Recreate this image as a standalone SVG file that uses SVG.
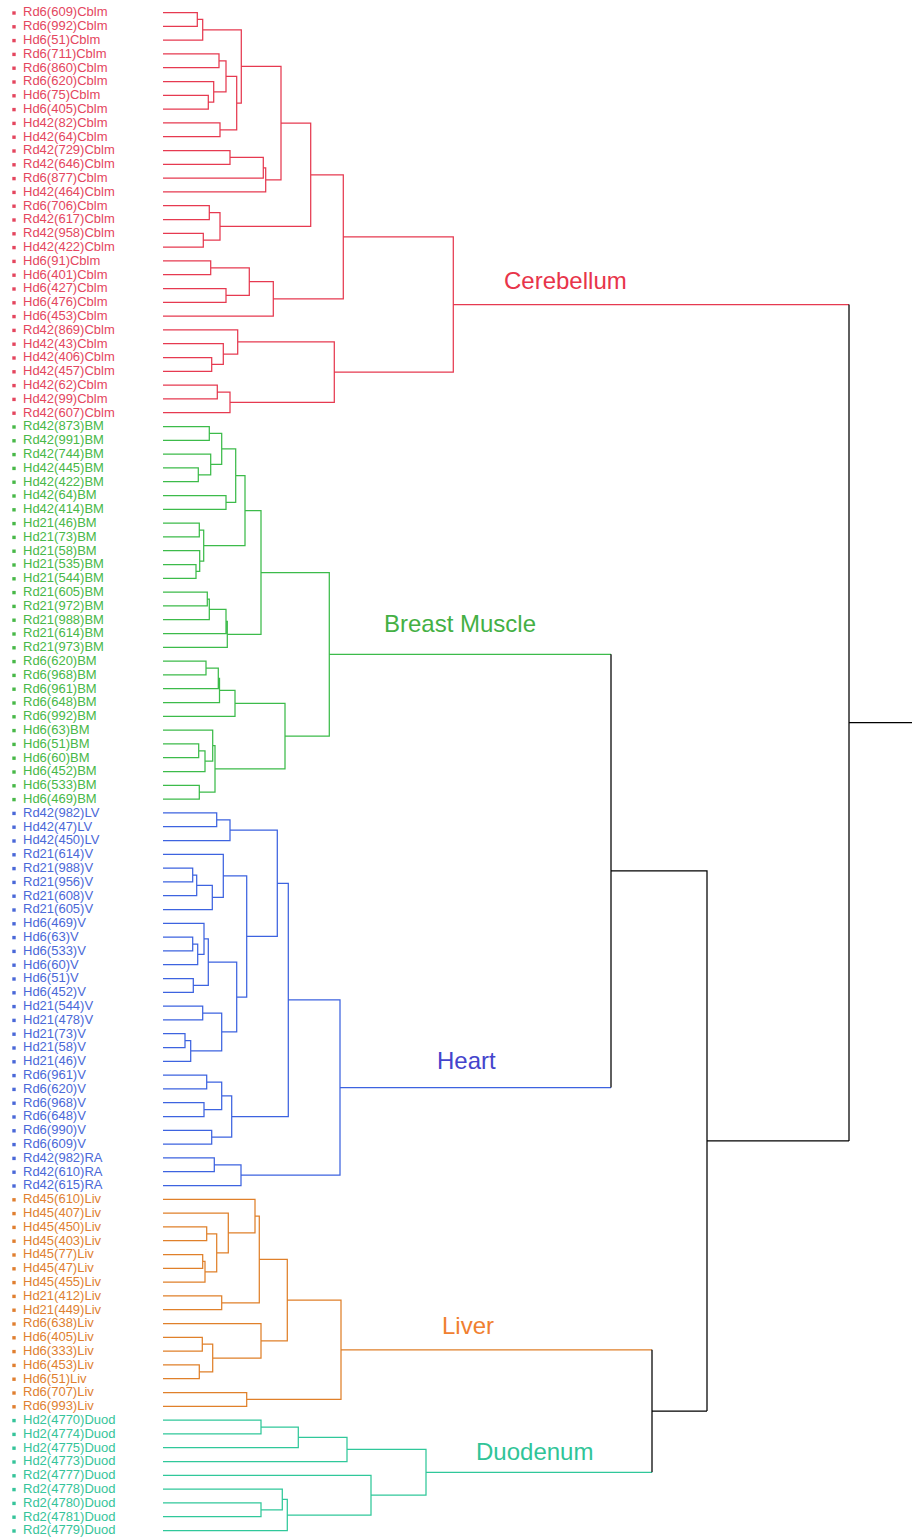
<svg xmlns="http://www.w3.org/2000/svg" width="912" height="1538" viewBox="0 0 912 1538">
<style>
text{font-family:"Liberation Sans",Arial,sans-serif}
.lf text{font-size:13px}
.cr{fill:#e4465e}.cg{fill:#48b848}.cb{fill:#4a68d8}.co{fill:#e07f30}.ct{fill:#36c49a}
#connectors path{fill:none;stroke-width:1.25}
.r{stroke:#e63a50}.g{stroke:#3cbb4a}.b{stroke:#3d63e0}.o{stroke:#e0802a}.t{stroke:#30c89a}.k{stroke:#000}
.big{font-size:24px}
</style>
<rect width="912" height="1538" fill="#fff"/>
<g id="connectors">
<path class="r" d="M163 12.5H197.3V26.3H163M197.3 19.4H202.7V40.1H163M163 53.9H219V67.7H163M163 95.3H208.3V109.1H163M163 81.5H213.7V102.2H208.3M219 60.8H226V91.85H213.7M163 122.9H220V136.7H163M226 76.3H236.7V129.8H220M202.7 29.75H241.3V103.05H236.7M163 150.5H230V164.3H163M230 157.4H263.3V178.1H163M263.3 167.75H265.7V191.9H163M241.3 66.4H281V179.8H265.7M163 205.7H209.3V219.5H163M163 233.3H203.3V247.1H163M209.3 212.6H220V240.2H203.3M281 123.1H310.7V226.4H220M163 260.9H210.7V274.7H163M163 288.5H226V302.3H163M210.7 267.8H249.3V295.4H226M249.3 281.6H273.3V316.1H163M310.7 174.75H343.3V298.85H273.3M163 357.5H211.7V371.3H163M163 343.7H223.3V364.4H211.7M163 329.9H237.7V354.05H223.3M163 385.1H217.3V398.9H163M217.3 392H230V412.7H163M237.7 341.98H334.3V402.35H230M343.3 236.8H453.3V372.2H334.3M453.3 304.5H849"/>
<path class="g" d="M163 426.5H209.3V440.3H163M163 467.9H198.3V481.7H163M163 454.1H210.7V474.8H198.3M209.3 433.4H221.7V464.45H210.7M163 495.5H226V509.3H163M221.7 448.9H235.7V502.4H226M163 523.1H199.3V536.9H163M163 564.5H196V578.3H163M163 550.7H199.7V571.4H196M199.3 530H203.7V561.05H199.7M235.7 475.65H245V545.5H203.7M163 592.1H207.3V605.9H163M207.3 599H209.3V619.7H163M209.3 609.35H226V633.5H163M226 621.4H227.3V647.3H163M245 510.6H261V634.35H227.3M163 661.1H206V674.9H163M206 668H218.3V688.7H163M218.3 678.35H219.5V702.5H163M219.5 690.4H235V716.3H163M163 743.9H198.7V757.7H163M198.7 750.8H205V771.5H163M163 730.1H212.7V761.15H205M163 785.3H199.3V799.1H163M212.7 745.6H215V792.2H199.3M235 703.35H285V768.9H215M261 572.5H329.3V736.1H285M329.3 654.3H611"/>
<path class="b" d="M163 812.9H216.7V826.7H163M216.7 819.8H230V840.5H163M163 868.1H192.7V881.9H163M192.7 875H196.7V895.7H163M196.7 885.35H212.3V909.5H163M163 854.3H223.3V897.4H212.3M163 937.1H192.7V950.9H163M192.7 944H197.7V964.7H163M163 923.3H204V954.35H197.7M163 978.5H193.3V992.3H163M204 938.8H208.3V985.4H193.3M163 1006.1H202.7V1019.9H163M163 1033.7H185V1047.5H163M185 1040.6H190.7V1061.3H163M202.7 1013H221.7V1050.95H190.7M208.3 962.1H236.7V1031.98H221.7M223.3 875.85H246.7V997H236.7M230 830.15H277.3V936.4H246.7M163 1075.1H206.7V1088.9H163M163 1102.7H204V1116.5H163M206.7 1082H221.7V1109.6H204M163 1130.3H211.7V1144.1H163M221.7 1095.8H231.7V1137.2H211.7M277.3 883.3H288.3V1116.5H231.7M163 1157.9H214.3V1171.7H163M214.3 1164.8H241V1185.5H163M288.3 999.9H340V1175.15H241M340 1087.5H611"/>
<path class="o" d="M163 1226.9H206.7V1240.7H163M163 1254.5H202.7V1268.3H163M202.7 1261.4H205V1282.1H163M206.7 1233.8H216.7V1271.75H205M163 1213.1H228.3V1252.8H216.7M163 1199.3H255V1232.95H228.3M163 1295.9H221.7V1309.7H163M255 1216.1H259.3V1302.8H221.7M163 1337.3H202.3V1351.1H163M163 1364.9H199.3V1378.7H163M202.3 1344.2H212.7V1371.8H199.3M163 1323.5H261V1358H212.7M259.3 1259.45H287.3V1340.75H261M163 1392.5H246.7V1406.3H163M287.3 1300.1H341V1399.4H246.7M341 1349.75H652"/>
<path class="t" d="M163 1420.1H261V1433.9H163M261 1427H298.3V1447.7H163M298.3 1437.35H347V1461.5H163M163 1502.9H261V1516.7H163M163 1489.1H282.3V1509.8H261M282.3 1499.45H287.3V1530.5H163M163 1475.3H371V1515H287.3M347 1449.4H426V1495.15H371M426 1472.3H652"/>
<path class="k" d="M652 1349.75V1472.3M652 1411H707M611 654.3V1087.5M611 870.9H707V1411M707 1140.95H849M849 304.5V1140.95M849 722.7H912"/>
</g>
<g id="cluster-labels">
<text id="lbl-cerebellum" class="big" x="504" y="289" fill="#e8344a">Cerebellum</text>
<text id="lbl-breast-muscle" class="big" x="384" y="632" fill="#44b044">Breast Muscle</text>
<text id="lbl-heart" class="big" x="437" y="1069" fill="#4444cc">Heart</text>
<text id="lbl-liver" class="big" x="442" y="1334" fill="#f08030">Liver</text>
<text id="lbl-duodenum" class="big" x="476" y="1460" fill="#30c498">Duodenum</text>
</g>
<g id="leaves" class="lf">
<g id="n1" class="cr"><rect x="12.3" y="11.3" width="3.4" height="3.4"/><text x="23" y="16.3">Rd6(609)Cblm</text></g>
<g id="n2" class="cr"><rect x="12.3" y="25.1" width="3.4" height="3.4"/><text x="23" y="30.1">Rd6(992)Cblm</text></g>
<g id="n3" class="cr"><rect x="12.3" y="38.9" width="3.4" height="3.4"/><text x="23" y="43.9">Hd6(51)Cblm</text></g>
<g id="n4" class="cr"><rect x="12.3" y="52.7" width="3.4" height="3.4"/><text x="23" y="57.7">Rd6(711)Cblm</text></g>
<g id="n5" class="cr"><rect x="12.3" y="66.5" width="3.4" height="3.4"/><text x="23" y="71.5">Rd6(860)Cblm</text></g>
<g id="n6" class="cr"><rect x="12.3" y="80.3" width="3.4" height="3.4"/><text x="23" y="85.3">Rd6(620)Cblm</text></g>
<g id="n7" class="cr"><rect x="12.3" y="94.1" width="3.4" height="3.4"/><text x="23" y="99.1">Hd6(75)Cblm</text></g>
<g id="n8" class="cr"><rect x="12.3" y="107.9" width="3.4" height="3.4"/><text x="23" y="112.9">Hd6(405)Cblm</text></g>
<g id="n9" class="cr"><rect x="12.3" y="121.7" width="3.4" height="3.4"/><text x="23" y="126.7">Hd42(82)Cblm</text></g>
<g id="n10" class="cr"><rect x="12.3" y="135.5" width="3.4" height="3.4"/><text x="23" y="140.5">Hd42(64)Cblm</text></g>
<g id="n11" class="cr"><rect x="12.3" y="149.3" width="3.4" height="3.4"/><text x="23" y="154.3">Rd42(729)Cblm</text></g>
<g id="n12" class="cr"><rect x="12.3" y="163.1" width="3.4" height="3.4"/><text x="23" y="168.1">Rd42(646)Cblm</text></g>
<g id="n13" class="cr"><rect x="12.3" y="176.9" width="3.4" height="3.4"/><text x="23" y="181.9">Rd6(877)Cblm</text></g>
<g id="n14" class="cr"><rect x="12.3" y="190.7" width="3.4" height="3.4"/><text x="23" y="195.7">Hd42(464)Cblm</text></g>
<g id="n15" class="cr"><rect x="12.3" y="204.5" width="3.4" height="3.4"/><text x="23" y="209.5">Rd6(706)Cblm</text></g>
<g id="n16" class="cr"><rect x="12.3" y="218.3" width="3.4" height="3.4"/><text x="23" y="223.3">Rd42(617)Cblm</text></g>
<g id="n17" class="cr"><rect x="12.3" y="232.1" width="3.4" height="3.4"/><text x="23" y="237.1">Rd42(958)Cblm</text></g>
<g id="n18" class="cr"><rect x="12.3" y="245.9" width="3.4" height="3.4"/><text x="23" y="250.9">Hd42(422)Cblm</text></g>
<g id="n19" class="cr"><rect x="12.3" y="259.7" width="3.4" height="3.4"/><text x="23" y="264.7">Hd6(91)Cblm</text></g>
<g id="n20" class="cr"><rect x="12.3" y="273.5" width="3.4" height="3.4"/><text x="23" y="278.5">Hd6(401)Cblm</text></g>
<g id="n21" class="cr"><rect x="12.3" y="287.3" width="3.4" height="3.4"/><text x="23" y="292.3">Hd6(427)Cblm</text></g>
<g id="n22" class="cr"><rect x="12.3" y="301.1" width="3.4" height="3.4"/><text x="23" y="306.1">Hd6(476)Cblm</text></g>
<g id="n23" class="cr"><rect x="12.3" y="314.9" width="3.4" height="3.4"/><text x="23" y="319.9">Hd6(453)Cblm</text></g>
<g id="n24" class="cr"><rect x="12.3" y="328.7" width="3.4" height="3.4"/><text x="23" y="333.7">Rd42(869)Cblm</text></g>
<g id="n25" class="cr"><rect x="12.3" y="342.5" width="3.4" height="3.4"/><text x="23" y="347.5">Hd42(43)Cblm</text></g>
<g id="n26" class="cr"><rect x="12.3" y="356.3" width="3.4" height="3.4"/><text x="23" y="361.3">Hd42(406)Cblm</text></g>
<g id="n27" class="cr"><rect x="12.3" y="370.1" width="3.4" height="3.4"/><text x="23" y="375.1">Hd42(457)Cblm</text></g>
<g id="n28" class="cr"><rect x="12.3" y="383.9" width="3.4" height="3.4"/><text x="23" y="388.9">Hd42(62)Cblm</text></g>
<g id="n29" class="cr"><rect x="12.3" y="397.7" width="3.4" height="3.4"/><text x="23" y="402.7">Hd42(99)Cblm</text></g>
<g id="n30" class="cr"><rect x="12.3" y="411.5" width="3.4" height="3.4"/><text x="23" y="416.5">Rd42(607)Cblm</text></g>
<g id="n31" class="cg"><rect x="12.3" y="425.3" width="3.4" height="3.4"/><text x="23" y="430.3">Rd42(873)BM</text></g>
<g id="n32" class="cg"><rect x="12.3" y="439.1" width="3.4" height="3.4"/><text x="23" y="444.1">Rd42(991)BM</text></g>
<g id="n33" class="cg"><rect x="12.3" y="452.9" width="3.4" height="3.4"/><text x="23" y="457.9">Rd42(744)BM</text></g>
<g id="n34" class="cg"><rect x="12.3" y="466.7" width="3.4" height="3.4"/><text x="23" y="471.7">Hd42(445)BM</text></g>
<g id="n35" class="cg"><rect x="12.3" y="480.5" width="3.4" height="3.4"/><text x="23" y="485.5">Hd42(422)BM</text></g>
<g id="n36" class="cg"><rect x="12.3" y="494.3" width="3.4" height="3.4"/><text x="23" y="499.3">Hd42(64)BM</text></g>
<g id="n37" class="cg"><rect x="12.3" y="508.1" width="3.4" height="3.4"/><text x="23" y="513.1">Hd42(414)BM</text></g>
<g id="n38" class="cg"><rect x="12.3" y="521.9" width="3.4" height="3.4"/><text x="23" y="526.9">Hd21(46)BM</text></g>
<g id="n39" class="cg"><rect x="12.3" y="535.7" width="3.4" height="3.4"/><text x="23" y="540.7">Hd21(73)BM</text></g>
<g id="n40" class="cg"><rect x="12.3" y="549.5" width="3.4" height="3.4"/><text x="23" y="554.5">Hd21(58)BM</text></g>
<g id="n41" class="cg"><rect x="12.3" y="563.3" width="3.4" height="3.4"/><text x="23" y="568.3">Hd21(535)BM</text></g>
<g id="n42" class="cg"><rect x="12.3" y="577.1" width="3.4" height="3.4"/><text x="23" y="582.1">Hd21(544)BM</text></g>
<g id="n43" class="cg"><rect x="12.3" y="590.9" width="3.4" height="3.4"/><text x="23" y="595.9">Rd21(605)BM</text></g>
<g id="n44" class="cg"><rect x="12.3" y="604.7" width="3.4" height="3.4"/><text x="23" y="609.7">Rd21(972)BM</text></g>
<g id="n45" class="cg"><rect x="12.3" y="618.5" width="3.4" height="3.4"/><text x="23" y="623.5">Rd21(988)BM</text></g>
<g id="n46" class="cg"><rect x="12.3" y="632.3" width="3.4" height="3.4"/><text x="23" y="637.3">Rd21(614)BM</text></g>
<g id="n47" class="cg"><rect x="12.3" y="646.1" width="3.4" height="3.4"/><text x="23" y="651.1">Rd21(973)BM</text></g>
<g id="n48" class="cg"><rect x="12.3" y="659.9" width="3.4" height="3.4"/><text x="23" y="664.9">Rd6(620)BM</text></g>
<g id="n49" class="cg"><rect x="12.3" y="673.7" width="3.4" height="3.4"/><text x="23" y="678.7">Rd6(968)BM</text></g>
<g id="n50" class="cg"><rect x="12.3" y="687.5" width="3.4" height="3.4"/><text x="23" y="692.5">Rd6(961)BM</text></g>
<g id="n51" class="cg"><rect x="12.3" y="701.3" width="3.4" height="3.4"/><text x="23" y="706.3">Rd6(648)BM</text></g>
<g id="n52" class="cg"><rect x="12.3" y="715.1" width="3.4" height="3.4"/><text x="23" y="720.1">Rd6(992)BM</text></g>
<g id="n53" class="cg"><rect x="12.3" y="728.9" width="3.4" height="3.4"/><text x="23" y="733.9">Hd6(63)BM</text></g>
<g id="n54" class="cg"><rect x="12.3" y="742.7" width="3.4" height="3.4"/><text x="23" y="747.7">Hd6(51)BM</text></g>
<g id="n55" class="cg"><rect x="12.3" y="756.5" width="3.4" height="3.4"/><text x="23" y="761.5">Hd6(60)BM</text></g>
<g id="n56" class="cg"><rect x="12.3" y="770.3" width="3.4" height="3.4"/><text x="23" y="775.3">Hd6(452)BM</text></g>
<g id="n57" class="cg"><rect x="12.3" y="784.1" width="3.4" height="3.4"/><text x="23" y="789.1">Hd6(533)BM</text></g>
<g id="n58" class="cg"><rect x="12.3" y="797.9" width="3.4" height="3.4"/><text x="23" y="802.9">Hd6(469)BM</text></g>
<g id="n59" class="cb"><rect x="12.3" y="811.7" width="3.4" height="3.4"/><text x="23" y="816.7">Rd42(982)LV</text></g>
<g id="n60" class="cb"><rect x="12.3" y="825.5" width="3.4" height="3.4"/><text x="23" y="830.5">Hd42(47)LV</text></g>
<g id="n61" class="cb"><rect x="12.3" y="839.3" width="3.4" height="3.4"/><text x="23" y="844.3">Hd42(450)LV</text></g>
<g id="n62" class="cb"><rect x="12.3" y="853.1" width="3.4" height="3.4"/><text x="23" y="858.1">Rd21(614)V</text></g>
<g id="n63" class="cb"><rect x="12.3" y="866.9" width="3.4" height="3.4"/><text x="23" y="871.9">Rd21(988)V</text></g>
<g id="n64" class="cb"><rect x="12.3" y="880.7" width="3.4" height="3.4"/><text x="23" y="885.7">Rd21(956)V</text></g>
<g id="n65" class="cb"><rect x="12.3" y="894.5" width="3.4" height="3.4"/><text x="23" y="899.5">Rd21(608)V</text></g>
<g id="n66" class="cb"><rect x="12.3" y="908.3" width="3.4" height="3.4"/><text x="23" y="913.3">Rd21(605)V</text></g>
<g id="n67" class="cb"><rect x="12.3" y="922.1" width="3.4" height="3.4"/><text x="23" y="927.1">Hd6(469)V</text></g>
<g id="n68" class="cb"><rect x="12.3" y="935.9" width="3.4" height="3.4"/><text x="23" y="940.9">Hd6(63)V</text></g>
<g id="n69" class="cb"><rect x="12.3" y="949.7" width="3.4" height="3.4"/><text x="23" y="954.7">Hd6(533)V</text></g>
<g id="n70" class="cb"><rect x="12.3" y="963.5" width="3.4" height="3.4"/><text x="23" y="968.5">Hd6(60)V</text></g>
<g id="n71" class="cb"><rect x="12.3" y="977.3" width="3.4" height="3.4"/><text x="23" y="982.3">Hd6(51)V</text></g>
<g id="n72" class="cb"><rect x="12.3" y="991.1" width="3.4" height="3.4"/><text x="23" y="996.1">Hd6(452)V</text></g>
<g id="n73" class="cb"><rect x="12.3" y="1004.9" width="3.4" height="3.4"/><text x="23" y="1009.9">Hd21(544)V</text></g>
<g id="n74" class="cb"><rect x="12.3" y="1018.7" width="3.4" height="3.4"/><text x="23" y="1023.7">Hd21(478)V</text></g>
<g id="n75" class="cb"><rect x="12.3" y="1032.5" width="3.4" height="3.4"/><text x="23" y="1037.5">Hd21(73)V</text></g>
<g id="n76" class="cb"><rect x="12.3" y="1046.3" width="3.4" height="3.4"/><text x="23" y="1051.3">Hd21(58)V</text></g>
<g id="n77" class="cb"><rect x="12.3" y="1060.1" width="3.4" height="3.4"/><text x="23" y="1065.1">Hd21(46)V</text></g>
<g id="n78" class="cb"><rect x="12.3" y="1073.9" width="3.4" height="3.4"/><text x="23" y="1078.9">Rd6(961)V</text></g>
<g id="n79" class="cb"><rect x="12.3" y="1087.7" width="3.4" height="3.4"/><text x="23" y="1092.7">Rd6(620)V</text></g>
<g id="n80" class="cb"><rect x="12.3" y="1101.5" width="3.4" height="3.4"/><text x="23" y="1106.5">Rd6(968)V</text></g>
<g id="n81" class="cb"><rect x="12.3" y="1115.3" width="3.4" height="3.4"/><text x="23" y="1120.3">Rd6(648)V</text></g>
<g id="n82" class="cb"><rect x="12.3" y="1129.1" width="3.4" height="3.4"/><text x="23" y="1134.1">Rd6(990)V</text></g>
<g id="n83" class="cb"><rect x="12.3" y="1142.9" width="3.4" height="3.4"/><text x="23" y="1147.9">Rd6(609)V</text></g>
<g id="n84" class="cb"><rect x="12.3" y="1156.7" width="3.4" height="3.4"/><text x="23" y="1161.7">Rd42(982)RA</text></g>
<g id="n85" class="cb"><rect x="12.3" y="1170.5" width="3.4" height="3.4"/><text x="23" y="1175.5">Rd42(610)RA</text></g>
<g id="n86" class="cb"><rect x="12.3" y="1184.3" width="3.4" height="3.4"/><text x="23" y="1189.3">Rd42(615)RA</text></g>
<g id="n87" class="co"><rect x="12.3" y="1198.1" width="3.4" height="3.4"/><text x="23" y="1203.1">Rd45(610)Liv</text></g>
<g id="n88" class="co"><rect x="12.3" y="1211.9" width="3.4" height="3.4"/><text x="23" y="1216.9">Hd45(407)Liv</text></g>
<g id="n89" class="co"><rect x="12.3" y="1225.7" width="3.4" height="3.4"/><text x="23" y="1230.7">Hd45(450)Liv</text></g>
<g id="n90" class="co"><rect x="12.3" y="1239.5" width="3.4" height="3.4"/><text x="23" y="1244.5">Hd45(403)Liv</text></g>
<g id="n91" class="co"><rect x="12.3" y="1253.3" width="3.4" height="3.4"/><text x="23" y="1258.3">Hd45(77)Liv</text></g>
<g id="n92" class="co"><rect x="12.3" y="1267.1" width="3.4" height="3.4"/><text x="23" y="1272.1">Hd45(47)Liv</text></g>
<g id="n93" class="co"><rect x="12.3" y="1280.9" width="3.4" height="3.4"/><text x="23" y="1285.9">Hd45(455)Liv</text></g>
<g id="n94" class="co"><rect x="12.3" y="1294.7" width="3.4" height="3.4"/><text x="23" y="1299.7">Hd21(412)Liv</text></g>
<g id="n95" class="co"><rect x="12.3" y="1308.5" width="3.4" height="3.4"/><text x="23" y="1313.5">Hd21(449)Liv</text></g>
<g id="n96" class="co"><rect x="12.3" y="1322.3" width="3.4" height="3.4"/><text x="23" y="1327.3">Rd6(638)Liv</text></g>
<g id="n97" class="co"><rect x="12.3" y="1336.1" width="3.4" height="3.4"/><text x="23" y="1341.1">Hd6(405)Liv</text></g>
<g id="n98" class="co"><rect x="12.3" y="1349.9" width="3.4" height="3.4"/><text x="23" y="1354.9">Hd6(333)Liv</text></g>
<g id="n99" class="co"><rect x="12.3" y="1363.7" width="3.4" height="3.4"/><text x="23" y="1368.7">Hd6(453)Liv</text></g>
<g id="n100" class="co"><rect x="12.3" y="1377.5" width="3.4" height="3.4"/><text x="23" y="1382.5">Hd6(51)Liv</text></g>
<g id="n101" class="co"><rect x="12.3" y="1391.3" width="3.4" height="3.4"/><text x="23" y="1396.3">Rd6(707)Liv</text></g>
<g id="n102" class="co"><rect x="12.3" y="1405.1" width="3.4" height="3.4"/><text x="23" y="1410.1">Rd6(993)Liv</text></g>
<g id="n103" class="ct"><rect x="12.3" y="1418.9" width="3.4" height="3.4"/><text x="23" y="1423.9">Hd2(4770)Duod</text></g>
<g id="n104" class="ct"><rect x="12.3" y="1432.7" width="3.4" height="3.4"/><text x="23" y="1437.7">Hd2(4774)Duod</text></g>
<g id="n105" class="ct"><rect x="12.3" y="1446.5" width="3.4" height="3.4"/><text x="23" y="1451.5">Hd2(4775)Duod</text></g>
<g id="n106" class="ct"><rect x="12.3" y="1460.3" width="3.4" height="3.4"/><text x="23" y="1465.3">Hd2(4773)Duod</text></g>
<g id="n107" class="ct"><rect x="12.3" y="1474.1" width="3.4" height="3.4"/><text x="23" y="1479.1">Rd2(4777)Duod</text></g>
<g id="n108" class="ct"><rect x="12.3" y="1487.9" width="3.4" height="3.4"/><text x="23" y="1492.9">Rd2(4778)Duod</text></g>
<g id="n109" class="ct"><rect x="12.3" y="1501.7" width="3.4" height="3.4"/><text x="23" y="1506.7">Rd2(4780)Duod</text></g>
<g id="n110" class="ct"><rect x="12.3" y="1515.5" width="3.4" height="3.4"/><text x="23" y="1520.5">Rd2(4781)Duod</text></g>
<g id="n111" class="ct"><rect x="12.3" y="1529.3" width="3.4" height="3.4"/><text x="23" y="1534.3">Rd2(4779)Duod</text></g>
</g>
</svg>
